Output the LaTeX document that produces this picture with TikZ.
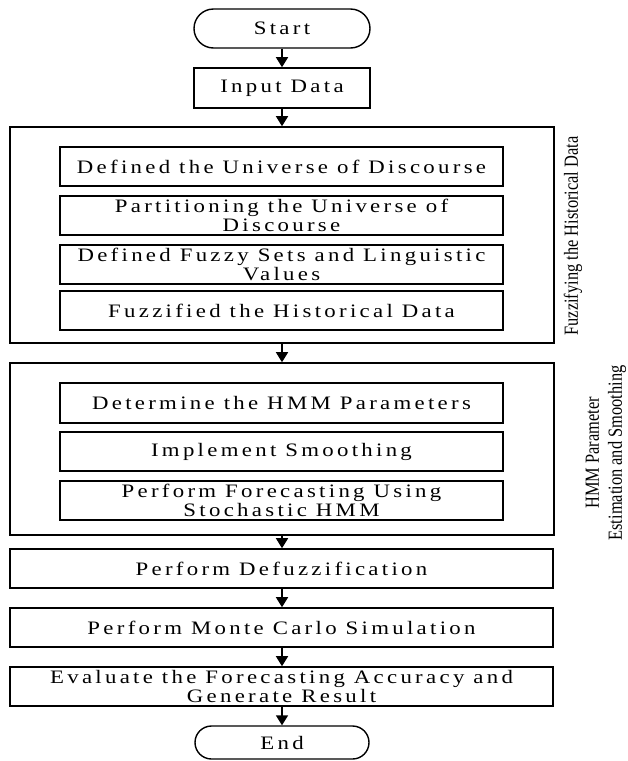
\documentclass[tikz,border=0pt]{standalone}
\usepackage{fontspec}
\setmainfont{Liberation Serif}
\newfontfamily\boxfont[LetterSpace=14.5]{Liberation Serif}
\usetikzlibrary{arrows.meta,shapes.misc}
\tikzset{
  box/.style={draw, line width=1.6pt, minimum height=39pt, inner sep=0pt, align=center,
    font=\boxfont\fontsize{19}{19}\selectfont},
  frame/.style={draw, line width=1.6pt, inner sep=0pt},
  term/.style={draw, rounded rectangle, line width=1.4pt, inner sep=0pt,
    font=\boxfont\fontsize{19}{19}\selectfont},
  arr/.style={line width=1.6pt, -{Triangle[width=12pt,length=10pt]}},
  side/.style={rotate=90, align=center, inner sep=0pt, font=\fontsize{20}{23}\selectfont},
}
\newcommand{\cond}[1]{\scalebox{0.82}[1]{#1}}
\newcommand{\wide}[1]{\scalebox{1.2}[1]{#1}}
\begin{document}
\begin{tikzpicture}[x=1pt,y=-1pt]
\useasboundingbox (0,0) rectangle (628,761);
% terminals and top box
\node[term, minimum width=176pt, minimum height=39pt] (start) at (282,28.5) {\wide{Start}};
\node[box, minimum width=176pt, minimum height=40pt] (input) at (282,88) {\wide{Input Data}};
% group 1
\node[frame, minimum width=544pt, minimum height=216pt] (g1) at (282,235) {};
\node[box, minimum width=443pt] (a) at (281.5,166.5) {\wide{Defined the Universe of Discourse}};
\node[box, minimum width=443pt] (b) at (281.5,215.5) {\wide{Partitioning the Universe of}\\\wide{Discourse}};
\node[box, minimum width=443pt] (c) at (281.5,264.5) {\wide{Defined Fuzzy Sets and Linguistic}\\\wide{Values}};
\node[box, minimum width=443pt] (d) at (281.5,310.5) {\wide{Fuzzified the Historical Data}};
\node[side] (l1) at (573,236) {\cond{Fuzzifying the Historical Data}};
% group 2
\node[frame, minimum width=544pt, minimum height=172pt] (g2) at (282,449) {};
\node[box, minimum width=443pt, minimum height=40pt] (e) at (281.5,403) {\wide{Determine the HMM Parameters}};
\node[box, minimum width=443pt] (f) at (281.5,451.5) {\wide{Implement Smoothing}};
\node[box, minimum width=443pt] (g) at (281.5,500.5) {\wide{Perform Forecasting Using}\\\wide{Stochastic HMM}};
\node[side] (l2) at (606,453) {\cond{HMM Parameter}\\\cond{Estimation and Smoothing}};
% lower boxes
\node[box, minimum width=543pt] (defuzz) at (281.5,568.5) {\wide{Perform Defuzzification}};
\node[box, minimum width=543pt] (monte) at (281.5,627.5) {\wide{Perform Monte Carlo Simulation}};
\node[box, minimum width=543pt] (eval) at (281.5,686.5) {\wide{Evaluate the Forecasting Accuracy and}\\\wide{Generate Result}};
\node[term, minimum width=174pt, minimum height=33pt] (end) at (282,742.5) {\wide{End}};
% connectors
\draw[arr] (start.south) -- (input.north);
\draw[arr] (input.south) -- (input.south |- g1.north);
\draw[arr] (g1.south) -- (g2.north);
\draw[arr] (g2.south) -- (g2.south |- defuzz.north);
\draw[arr] (defuzz.south -| end.north) -- (monte.north -| end.north);
\draw[arr] (monte.south -| end.north) -- (eval.north -| end.north);
\draw[arr] (eval.south -| end.north) -- (end.north);
\end{tikzpicture}
\end{document}
